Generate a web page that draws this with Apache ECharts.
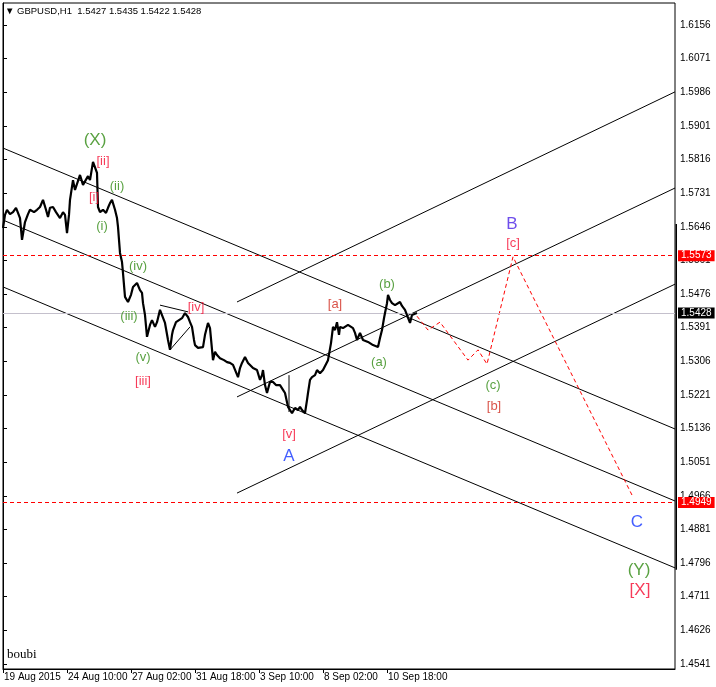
<!DOCTYPE html>
<html>
<head>
<meta charset="utf-8">
<script src="https://cdn.jsdelivr.net/npm/echarts@6/dist/echarts.min.js"></script>
<style>
html,body{margin:0;padding:0;background:#fff;}
#chart{width:716px;height:687px;}
</style>
</head>
<body>
<div id="chart"></div>
<script>
// ---- data (bar number counted from the left edge, price) ----
const priceBars = [
[0,1.5643],[2,1.5676],[4,1.5689],[7,1.5678],[10,1.5683],[13,1.5694],[15,1.5681],[17,1.5668],[19,1.5613],[21,1.5643],
[22,1.5658],[25,1.5678],[27,1.5689],[31,1.5683],[34,1.5689],[37,1.5696],[40,1.5714],[43,1.5689],[45,1.5671],[47,1.5694],
[50,1.5696],[53,1.5683],[57,1.5668],[60,1.5683],[62,1.5676],[64,1.5630],[66,1.5676],[67,1.5714],[70,1.5764],[72,1.5739],
[74,1.5739],[77,1.5777],[80,1.5752],[82,1.5757],[85,1.5774],[87,1.5764],[90,1.5810],[92,1.5815],[94,1.5782],[95,1.5696],
[97,1.5683],[100,1.5689],[103,1.5681],[105,1.5694],[107,1.5706],[109,1.5714],[112,1.5689],[114,1.5668],[115,1.5646],[117,1.5580],
[119,1.5557],[120,1.5529],[122,1.5469],[125,1.5456],[128,1.5474],[130,1.5494],[132,1.5499],[134,1.5504],[137,1.5486],[139,1.5479],
[140,1.5453],[142,1.5423],[144,1.5368],[147,1.5398],[149,1.5410],[152,1.5393],[154,1.5405],[157,1.5436],[159,1.5423],[162,1.5403],
[165,1.5360],[167,1.5335],[169,1.5373],[170,1.5385],[173,1.5405],[175,1.5410],[179,1.5415],[182,1.5428],[185,1.5418],[187,1.5405],
[189,1.5393],[191,1.5360],[192,1.5347],[195,1.5340],[200,1.5342],[202,1.5373],[205,1.5403],[207,1.5390],[209,1.5385],[210,1.5309],
[212,1.5330],[214,1.5322],[217,1.5314],[221,1.5309],[224,1.5304],[227,1.5302],[230,1.5297],[232,1.5292],[235,1.5266],[237,1.5289],
[239,1.5302],[242,1.5317],[245,1.5302],[247,1.5297],[250,1.5289],[254,1.5284],[257,1.5259],[259,1.5271],[260,1.5284],[262,1.5246],
[264,1.5226],[267,1.5254],[270,1.5254],[273,1.5246],[275,1.5241],[277,1.5246],[280,1.5234],[282,1.5226],[284,1.5221],[285,1.5191],
[287,1.5183],[289,1.5175],[292,1.5188],[295,1.5183],[297,1.5191],[299,1.5183],[302,1.5175],[304,1.5208],[305,1.5226],[307,1.5259],
[309,1.5266],[312,1.5271],[314,1.5284],[317,1.5276],[320,1.5284],[322,1.5279],[325,1.5309],[328,1.5352],[330,1.5393],[332,1.5385],
[334,1.5405],[336,1.5373],[337,1.5393],[340,1.5390],[342,1.5385],[345,1.5398],[347,1.5393],[350,1.5390],[352,1.5378],[354,1.5360],
[357,1.5378],[360,1.5360],[362,1.5365],[365,1.5355],[367,1.5360],[370,1.5347],[372,1.5352],[375,1.5342],[377,1.5365],[379,1.5385],
[381,1.5415],[382,1.5428],[384,1.5453],[385,1.5474],[387,1.5461],[389,1.5453],[392,1.5448],[394,1.5448],[397,1.5456],[399,1.5446],
[402,1.5436],[404,1.5423],[405,1.5418],[407,1.5403],[409,1.5423],[410,1.5428],[412,1.5426],[414,1.5428]
];

const yTicks = [1.4541,1.4626,1.4711,1.4796,1.4881,1.4966,1.5051,1.5136,1.5221,1.5306,1.5391,1.5476,1.5561,1.5646,1.5731,1.5816,1.5901,1.5986,1.6071,1.6156];
const xTickBars = [0,64,128,192,256,320,384];
const xTickLabels = ['19 Aug 2015','24 Aug 10:00','27 Aug 02:00','31 Aug 18:00','3 Sep 10:00','8 Sep 02:00','10 Sep 18:00'];

const levelTarget = 1.5573;
const levelLow = 1.4949;
const lastPrice = 1.5428;

const downChannelBars = [0, 672];
const downChannelStart = [1.5845, 1.5663, 1.5494];
const downChannelEnd = [1.5135, 1.4953, 1.4784];
const upChannelBars = [234, 672];
const upChannelStart = [1.5456, 1.5216, 1.4973];
const upChannelEnd = [1.5987, 1.5744, 1.5501];
const handleLines = [
  [[157,1.5448],[185,1.5431]],
  [[167,1.5335],[187,1.5393]],
  [[286,1.5271],[286,1.5178]]
];

const projBars = [414,425,437,465,475,484,510,629];
const projPrices = [1.5420,1.5385,1.5405,1.5309,1.5335,1.5299,1.5570,1.4968];

const waveTexts  = ['(X)','[ii]','(ii)','[i]','(i)','(iv)','(iii)','[iv]','(v)','[iii]','[v]','A','[a]','(b)','(a)','B','[c]','(c)','[b]','C','(Y)','[X]'];
const waveBars   = [92,100,114,91,99,135,126,193,140,140,286,286,332,384,376,509,510,490,491,634,636,637];
const wavePrices = [1.5865,1.5810,1.5749,1.5719,1.5646,1.5547,1.5420,1.5443,1.5317,1.5256,1.5120,1.5067,1.5451,1.5501,1.5302,1.5653,1.5605,1.5244,1.5193,1.4900,1.4779,1.4728];

const scaleBarBar = 674;
const scaleBarPrices = [1.5653, 1.4779];

// ---- styling helpers ----
function waveStyle(t){
  const big = (t.length === 1) || t === '(X)' || t === '(Y)' || t === '[X]';
  let color;
  if (t === 'B') color = '#4a22e6';
  else if (t.length === 1) color = '#1436ff';
  else if (t === '[a]' || t === '[b]') color = '#d0281c';
  else if (t[0] === '[') color = '#f50a30';
  else color = '#2f8a12';
  return {color: color, fontSize: big ? 17 : 13};
}

const lineSeries = [];
function addLine(points, style){
  lineSeries.push({type:'line', data: points, symbol:'none', silent:true, animation:false,
    lineStyle: Object.assign({color:'#000', width:1}, style), z:3});
}
for (let i=0;i<downChannelStart.length;i++){
  addLine([[downChannelBars[0],downChannelStart[i]],[downChannelBars[1],downChannelEnd[i]]]);
}
for (let i=0;i<upChannelStart.length;i++){
  addLine([[upChannelBars[0],upChannelStart[i]],[upChannelBars[1],upChannelEnd[i]]]);
}
handleLines.forEach(h => addLine(h));

const chart = echarts.init(document.getElementById('chart'), null, {renderer:'canvas'});
const FONT = 'Liberation Sans';

function levelLabel(txt, bg){
  return {show:true, position:'end', formatter: txt, backgroundColor: bg, color:'#fff',
    padding:[1,3,0,3], fontSize:10, fontFamily: FONT, distance:3};
}

chart.setOption({
  animation:false,
  backgroundColor:'#fff',
  title:[
    {text:'\u25BC GBPUSD,H1  1.5427 1.5435 1.5422 1.5428', left:5, top:6, padding:0,
     textStyle:{fontSize:9.5, fontWeight:'normal', color:'#000', fontFamily:FONT}},
    {text:'boubi', left:7, top:648, padding:0,
     textStyle:{fontSize:13, fontWeight:'normal', color:'#000', fontFamily:'Liberation Serif'}}
  ],
  grid:{left:3, right:41, top:3, bottom:18, show:true, borderColor:'#000', borderWidth:1, backgroundColor:'#fff'},
  xAxis:{
    type:'value', min:0, max:672, position:'bottom',
    axisLine:{show:true, lineStyle:{color:'#000', width:1}},
    axisTick:{show:true, customValues: xTickBars, length:4, lineStyle:{color:'#000'}},
    axisLabel:{customValues: xTickBars, formatter: v => xTickLabels[xTickBars.indexOf(v)] || '',
      align:'left', margin:3, fontSize:10, fontFamily:FONT, color:'#000', padding:[0,0,0,1]},
    splitLine:{show:false}
  },
  yAxis:{
    type:'value', position:'right', min:1.45284, max:1.62116,
    axisLine:{show:true, lineStyle:{color:'#000', width:1}},
    axisTick:{show:true, customValues: yTicks, length:4, lineStyle:{color:'#000'}},
    axisLabel:{customValues: yTicks, formatter: v => v.toFixed(4), margin:5,
      fontSize:10, fontFamily:FONT, color:'#000'},
    splitLine:{show:false}
  },
  series: [
    ...lineSeries,
    {
      type:'line', data: priceBars, symbol:'none', silent:true, z:5,
      lineStyle:{color:'#000', width:2.2},
      markLine:{
        silent:true, symbol:['none','none'], animation:false, precision:4,
        data:[
          {yAxis:lastPrice, lineStyle:{color:'#c4c0cc', type:'solid', width:1}, label: levelLabel('1.5428', '#000')},
          {yAxis:levelTarget, lineStyle:{color:'#ff0000', type:[4,3], width:1.2}, label: levelLabel('1.5573', '#ff0000')},
          {yAxis:levelLow, lineStyle:{color:'#ff0000', type:[4,3], width:1.2}, label: levelLabel('1.4949', '#ff0000')}
        ]
      }
    },
    {
      type:'line', data: projBars.map((b,i)=>[b, projPrices[i]]), symbol:'none', silent:true, z:4,
      lineStyle:{color:'#ff0000', width:1, type:[4,3]}
    },
    {
      type:'line', data: scaleBarPrices.map(p=>[scaleBarBar, p]), symbol:'none', silent:true, clip:false, z:6,
      lineStyle:{color:'#000', width:3}
    },
    {
      type:'scatter', silent:true, symbolSize:1, z:7,
      itemStyle:{color:'rgba(0,0,0,0)'},
      data: waveTexts.map((t,i)=>{
        const s = waveStyle(t);
        return {value:[waveBars[i], wavePrices[i]],
          label:{show:true, position:'inside', formatter:t, color:s.color, fontSize:s.fontSize, fontFamily:FONT}};
      })
    }
  ]
});
</script>
</body>
</html>
